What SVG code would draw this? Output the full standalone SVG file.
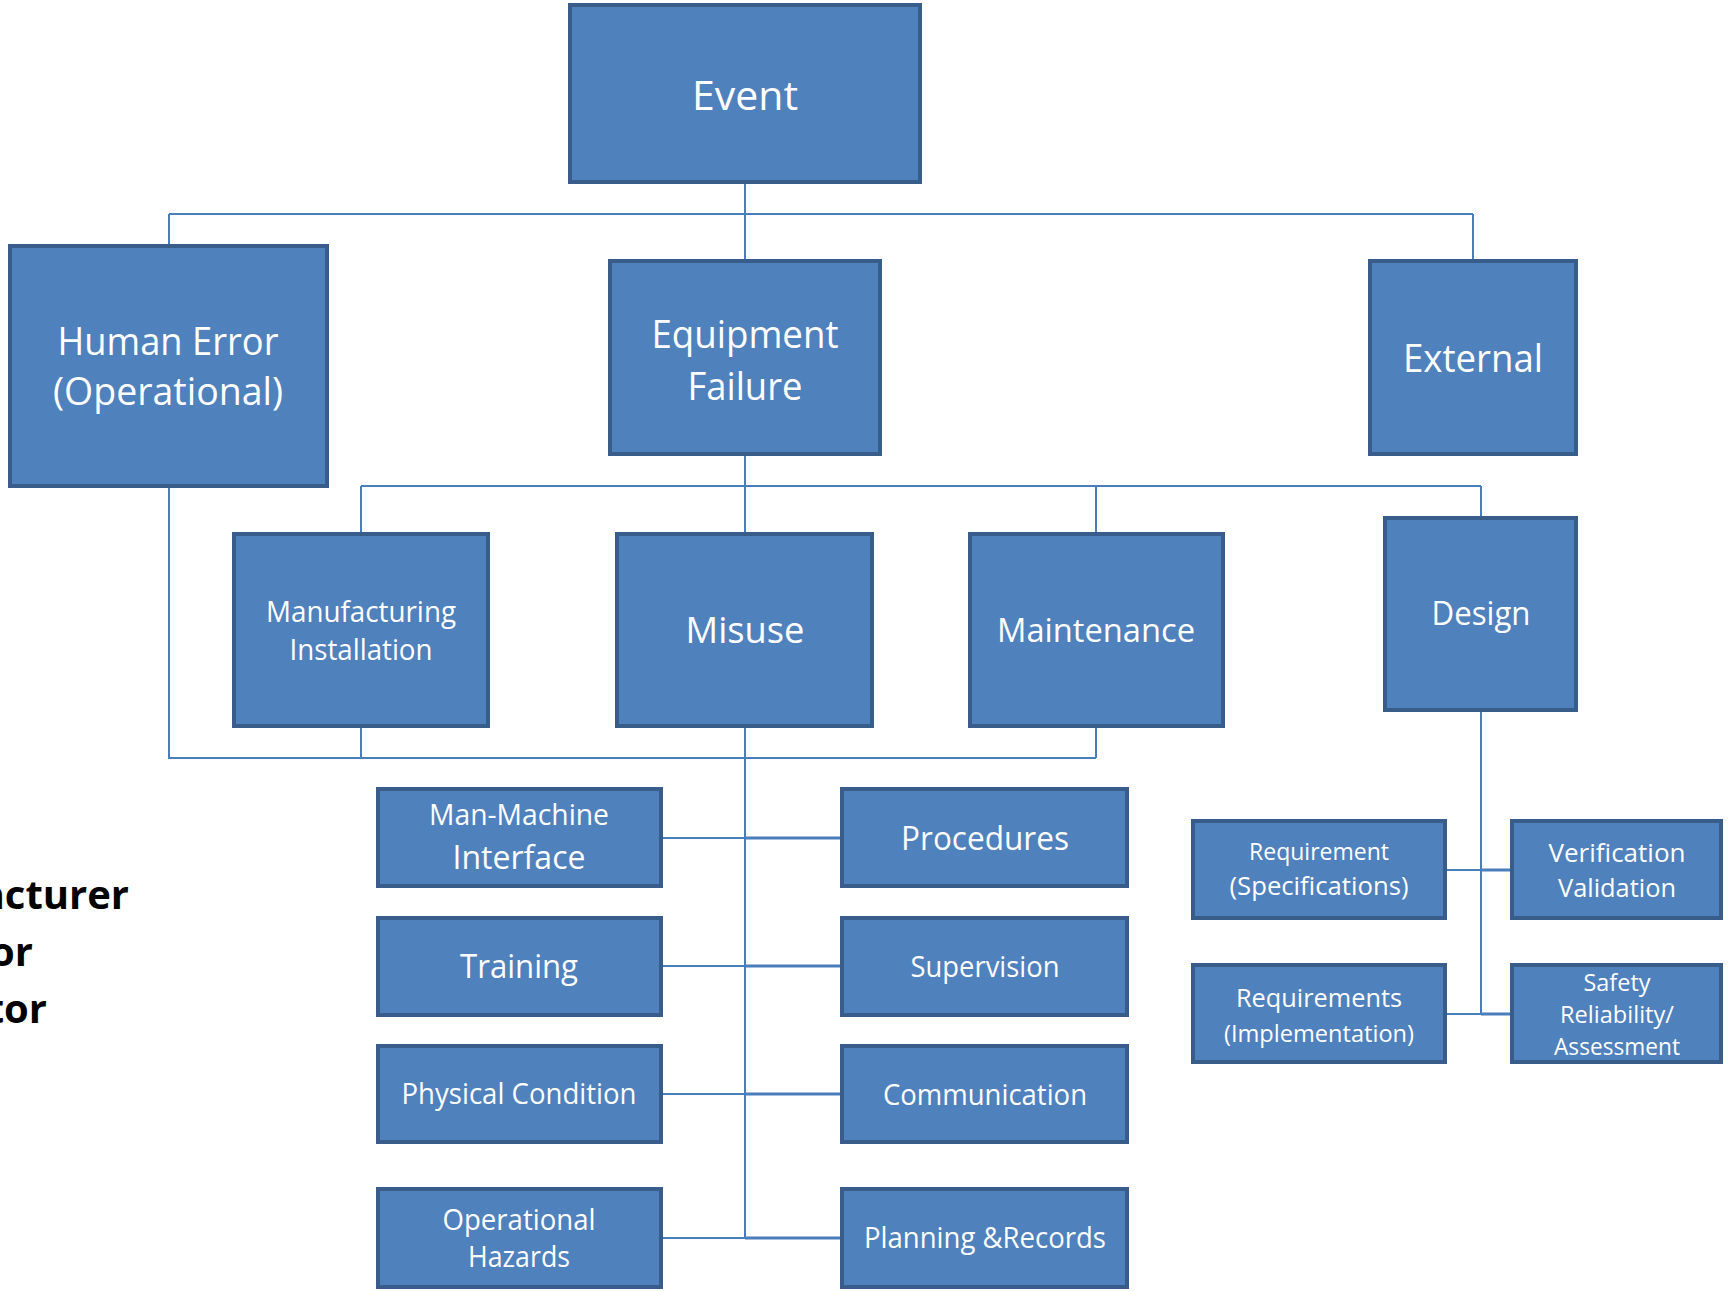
<svg xmlns="http://www.w3.org/2000/svg" width="1733" height="1291" viewBox="0 0 1733 1291">
<style>
.box{fill:#4F81BD;stroke:#385D8A;stroke-width:4}
.t{fill:#FFFFFF;font-family:"Open Sans","Noto Sans","Liberation Sans",sans-serif;text-anchor:middle}
.c{stroke:#4A7EBB;stroke-width:2;fill:none}
.c3{stroke:#4A7EBB;stroke-width:3;fill:none}
.side{fill:#000000;font-family:"Open Sans","Noto Sans","Liberation Sans",sans-serif;font-weight:bold;font-size:40px;text-anchor:end}
</style>
<rect width="1733" height="1291" fill="#FFFFFF"/>
<g id="connectors">
<path class="c" d="M745 184V259M169 214H1473M169 214V244M1473 214V259"/>
<path class="c" d="M745 456V532M361 486H1481M361 486V532M1096 486V532M1481 486V516"/>
<path class="c" d="M169 488V758H1096M361 728V758M1096 728V758M745 728V1238"/>
<path class="c" d="M663 838H745M663 966H745M663 1094H745M663 1238H745"/>
<path class="c3" d="M745 838H840M745 966H840M745 1094H840M745 1238H840"/>
<path class="c" d="M1481 712V1014M1447 870H1481M1447 1014H1481"/>
<path class="c3" d="M1481 870H1510M1481 1014H1510"/>
</g>
<g id="side-text">
<text class="side" x="129" y="909">acturer</text>
<text class="side" x="33" y="966">or</text>
<text class="side" x="47" y="1023">tor</text>
</g>
<g id="event"><rect class="box" x="570" y="5" width="350" height="177"/><text class="t" x="745" y="110" font-size="40" textLength="106" lengthAdjust="spacingAndGlyphs">Event</text></g>
<g id="human-error"><rect class="box" x="10" y="246" width="317" height="240"/><text class="t" x="168" y="355" font-size="38" textLength="221" lengthAdjust="spacingAndGlyphs">Human Error</text><text class="t" x="168" y="405" font-size="38" textLength="230" lengthAdjust="spacingAndGlyphs">(Operational)</text></g>
<g id="equipment-failure"><rect class="box" x="610" y="261" width="270" height="193"/><text class="t" x="745" y="348" font-size="38" textLength="187" lengthAdjust="spacingAndGlyphs">Equipment</text><text class="t" x="745" y="400" font-size="38" textLength="115" lengthAdjust="spacingAndGlyphs">Failure</text></g>
<g id="external"><rect class="box" x="1370" y="261" width="206" height="193"/><text class="t" x="1473" y="372" font-size="38" textLength="140" lengthAdjust="spacingAndGlyphs">External</text></g>
<g id="manufacturing"><rect class="box" x="234" y="534" width="254" height="192"/><text class="t" x="361" y="622" font-size="28.5" textLength="190" lengthAdjust="spacingAndGlyphs">Manufacturing</text><text class="t" x="361" y="660" font-size="28.5" textLength="143" lengthAdjust="spacingAndGlyphs">Installation</text></g>
<g id="misuse"><rect class="box" x="617" y="534" width="255" height="192"/><text class="t" x="745" y="643" font-size="37" textLength="119" lengthAdjust="spacingAndGlyphs">Misuse</text></g>
<g id="maintenance"><rect class="box" x="970" y="534" width="253" height="192"/><text class="t" x="1096" y="642" font-size="33" textLength="198" lengthAdjust="spacingAndGlyphs">Maintenance</text></g>
<g id="design"><rect class="box" x="1385" y="518" width="191" height="192"/><text class="t" x="1481" y="625" font-size="33" textLength="99" lengthAdjust="spacingAndGlyphs">Design</text></g>
<g id="man-machine"><rect class="box" x="378" y="789" width="283" height="97"/><text class="t" x="519" y="825" font-size="28.5" textLength="180" lengthAdjust="spacingAndGlyphs">Man-Machine</text><text class="t" x="519" y="869" font-size="32.5" textLength="133" lengthAdjust="spacingAndGlyphs">Interface</text></g>
<g id="procedures"><rect class="box" x="842" y="789" width="285" height="97"/><text class="t" x="985" y="850" font-size="33" textLength="168" lengthAdjust="spacingAndGlyphs">Procedures</text></g>
<g id="training"><rect class="box" x="378" y="918" width="283" height="97"/><text class="t" x="519" y="978" font-size="32" textLength="118" lengthAdjust="spacingAndGlyphs">Training</text></g>
<g id="supervision"><rect class="box" x="842" y="918" width="285" height="97"/><text class="t" x="985" y="977" font-size="28.5" textLength="149" lengthAdjust="spacingAndGlyphs">Supervision</text></g>
<g id="physical-condition"><rect class="box" x="378" y="1046" width="283" height="96"/><text class="t" x="519" y="1104" font-size="28.5" textLength="235" lengthAdjust="spacingAndGlyphs">Physical Condition</text></g>
<g id="communication"><rect class="box" x="842" y="1046" width="285" height="96"/><text class="t" x="985" y="1105" font-size="28.5" textLength="204" lengthAdjust="spacingAndGlyphs">Communication</text></g>
<g id="operational-hazards"><rect class="box" x="378" y="1189" width="283" height="98"/><text class="t" x="519" y="1230" font-size="28.5" textLength="153" lengthAdjust="spacingAndGlyphs">Operational</text><text class="t" x="519" y="1267" font-size="28.5" textLength="102" lengthAdjust="spacingAndGlyphs">Hazards</text></g>
<g id="planning-records"><rect class="box" x="842" y="1189" width="285" height="98"/><text class="t" x="985" y="1248" font-size="28.5" textLength="242" lengthAdjust="spacingAndGlyphs">Planning &amp;Records</text></g>
<g id="requirement-spec"><rect class="box" x="1193" y="821" width="252" height="97"/><text class="t" x="1319" y="860" font-size="24.5" textLength="140" lengthAdjust="spacingAndGlyphs">Requirement</text><text class="t" x="1319" y="895" font-size="25.5" textLength="179" lengthAdjust="spacingAndGlyphs">(Specifications)</text></g>
<g id="verification"><rect class="box" x="1512" y="821" width="209" height="97"/><text class="t" x="1617" y="862" font-size="26" textLength="137" lengthAdjust="spacingAndGlyphs">Verification</text><text class="t" x="1617" y="897" font-size="26" textLength="118" lengthAdjust="spacingAndGlyphs">Validation</text></g>
<g id="requirements-impl"><rect class="box" x="1193" y="965" width="252" height="97"/><text class="t" x="1319" y="1007" font-size="26" textLength="166" lengthAdjust="spacingAndGlyphs">Requirements</text><text class="t" x="1319" y="1042" font-size="24.5" textLength="190" lengthAdjust="spacingAndGlyphs">(Implementation)</text></g>
<g id="safety"><rect class="box" x="1512" y="965" width="209" height="97"/><text class="t" x="1617" y="991" font-size="24" textLength="67" lengthAdjust="spacingAndGlyphs">Safety</text><text class="t" x="1617" y="1023" font-size="24" textLength="114" lengthAdjust="spacingAndGlyphs">Reliability/</text><text class="t" x="1617" y="1055" font-size="24" textLength="126" lengthAdjust="spacingAndGlyphs">Assessment</text></g>
</svg>
